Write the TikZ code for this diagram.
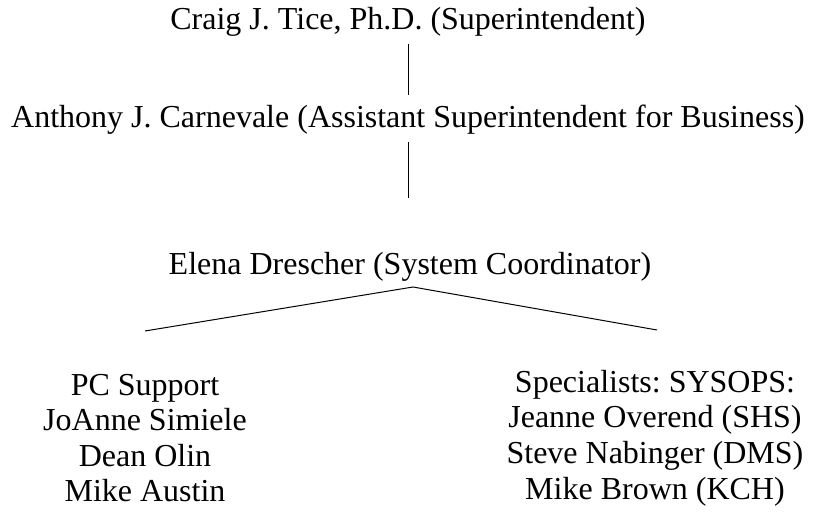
\documentclass[tikz,border=0pt]{standalone}
\usepackage{fontspec}
\setmainfont{Liberation Serif}
\usepackage{tikz}
\usetikzlibrary{positioning}
\frenchspacing

\begin{document}
\begin{tikzpicture}[x=1pt, y=-1pt,
                          titlenode/.style={inner sep=0pt, font=\fontsize{32}{35.6}\selectfont},
                          groupnode/.style={inner sep=0pt, align=center, font=\fontsize{32}{35.6}\selectfont},
                      ]
                      \useasboundingbox (0,0) rectangle (823,516);
                      % Nodes
                      \node[titlenode]        (super)        at (408,22)     {Craig J. Tice, Ph.D. (Superintendent)};
                      \node[titlenode]        (assist)       at (408,120)    {Anthony J. Carnevale (Assistant Superintendent for Business)};
                      \node[titlenode]        (coord)        at (410,267)    {Elena Drescher (System Coordinator)};

                      \coordinate             (split)        at (413,287);
                      \coordinate             (left_end)     at (145,331);
                      \coordinate             (right_end)    at (657,330);

                      \node[groupnode]        (pc_support)   at (145,438)    {PC Support\\JoAnne Simiele\\Dean Olin\\Mike Austin};
                      \node[groupnode]        (sysops)       at (655,438)    {Specialists: SYSOPS:\\Jeanne Overend (SHS)\\Steve Nabinger (DMS)\\Mike Brown (KCH)};

                      %Lines
                      \draw[line width=1pt] (408,44) -- (408,95);
                      \draw[line width=1pt] (408,142) -- (408,198);
                      \draw[line width=1pt] (left_end) -- (split) -- (right_end);
                  \end{tikzpicture}
\end{document}
